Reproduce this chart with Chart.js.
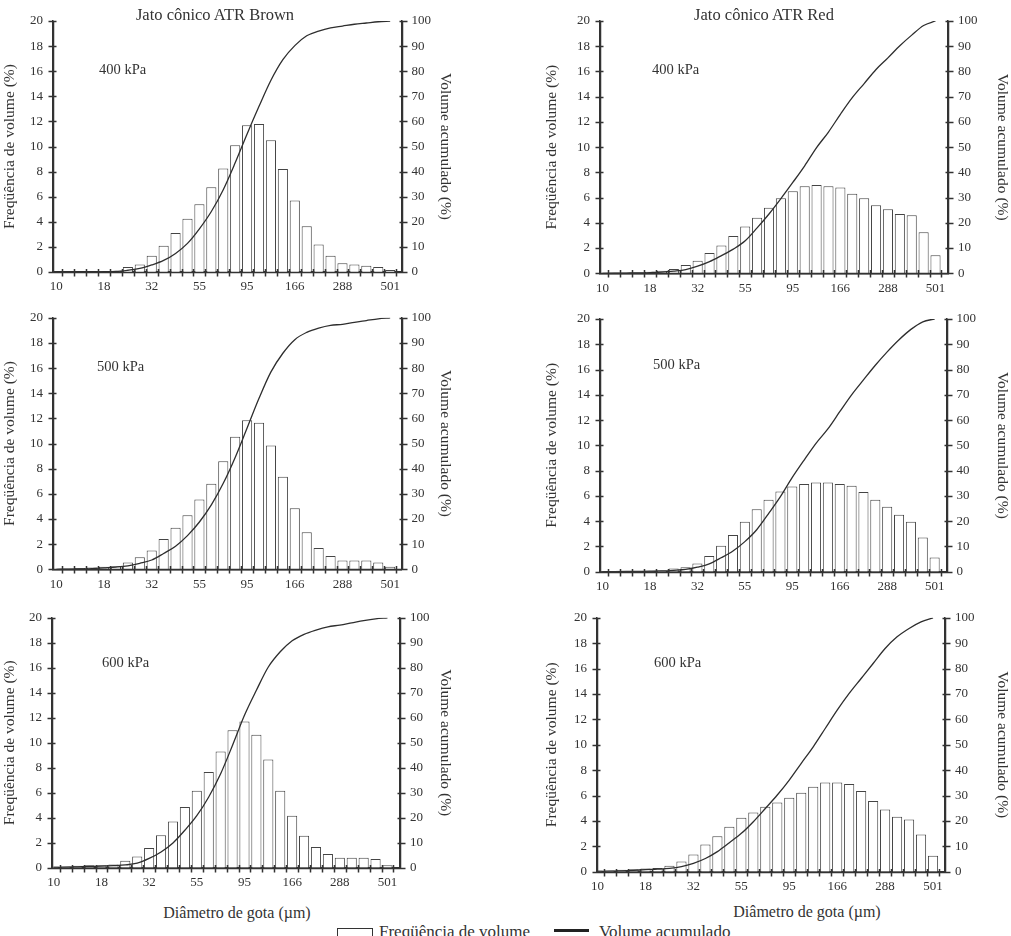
<!DOCTYPE html>
<html>
<head>
<meta charset="utf-8">
<script src="https://cdn.jsdelivr.net/npm/chart.js@4.4.0/dist/chart.umd.min.js"></script>
<style>
html,body{margin:0;padding:0;background:#fff;overflow:hidden;width:1011px;height:936px;}
body{position:relative;font-family:"Liberation Serif","DejaVu Serif",serif;color:#333;}
canvas{position:absolute;}
.t{position:absolute;white-space:nowrap;line-height:1;}
.c{transform:translate(-50%,-50%);}
.m{transform:translateY(-50%);}
</style>
</head>
<body>
<canvas id="b400" width="455" height="300" style="left:0;top:0"></canvas>
<canvas id="b500" width="455" height="300" style="left:0;top:300px"></canvas>
<canvas id="b600" width="455" height="300" style="left:0;top:600px"></canvas>
<canvas id="r400" width="471" height="300" style="left:540px;top:0"></canvas>
<canvas id="r500" width="471" height="300" style="left:540px;top:300px"></canvas>
<canvas id="r600" width="471" height="300" style="left:540px;top:600px"></canvas>

<div class="t c" style="left:215px;top:15px;font-size:16.5px">Jato cônico ATR Brown</div>
<div class="t c" style="left:764px;top:15px;font-size:16.5px">Jato cônico ATR Red</div>

<div class="t m" style="left:99px;top:69px;font-size:14.5px">400 kPa</div>
<div class="t m" style="left:97px;top:366px;font-size:14.5px">500 kPa</div>
<div class="t m" style="left:102px;top:662px;font-size:14.5px">600 kPa</div>
<div class="t m" style="left:652px;top:69px;font-size:14.5px">400 kPa</div>
<div class="t m" style="left:653px;top:364px;font-size:14.5px">500 kPa</div>
<div class="t m" style="left:654px;top:662px;font-size:14.5px">600 kPa</div>

<div class="t c" style="left:237px;top:913px;font-size:16px">Diâmetro de gota (µm)</div>
<div class="t c" style="left:807px;top:912px;font-size:16px">Diâmetro de gota (µm)</div>

<div style="position:absolute;left:337px;top:928px;width:34px;height:20px;border:1px solid #333;background:#fff"></div>
<div class="t" style="left:379px;top:923px;font-size:17px">Freqüência de volume</div>
<div style="position:absolute;left:554px;top:929px;width:35px;height:3px;background:#222"></div>
<div class="t" style="left:599px;top:923px;font-size:17px">Volume acumulado</div>

<script>
// ---------- data ----------
const classLabels = ['10','','','','18','','','','32','','','','55','','','','95','','','','166','','','','288','','','','501'];

const brown400Freq = [0,0,0,0,0.05,0.1,0.4,0.6,1.3,2.1,3.1,4.25,5.4,6.75,8.25,10.1,11.7,11.8,10.5,8.2,5.7,3.65,2.2,1.3,0.7,0.6,0.5,0.4,0.15];
const brown400Cum  = [0,0,0,0,0.1,0.2,0.7,1.4,2.8,4.6,7.4,11.4,17.2,24.1,32.8,43.5,55.0,66.0,76.4,84.6,90.2,94.1,96.0,97.3,98.0,98.7,99.2,99.7,100];

const brown500Freq = [0,0.05,0.1,0.15,0.2,0.25,0.55,0.95,1.5,2.4,3.3,4.3,5.55,6.8,8.6,10.55,11.85,11.65,9.85,7.35,4.85,2.95,1.7,1.05,0.7,0.7,0.7,0.55,0.2];
const brown500Cum  = [0,0.05,0.15,0.3,0.6,0.9,1.4,2.4,3.7,6.3,9.2,13.4,18.8,25.6,34.2,44.5,56.2,68.0,78.5,85.9,91.3,94.2,95.9,97.0,97.4,98.2,98.9,99.6,100];

const brown600Freq = [0.1,0.1,0.15,0.2,0.2,0.25,0.55,0.9,1.58,2.6,3.7,4.85,6.15,7.65,9.3,11.0,11.7,10.65,8.65,6.15,4.15,2.55,1.65,1.1,0.8,0.8,0.8,0.7,0.2];
const brown600Cum  = [0.1,0.2,0.35,0.5,0.6,0.8,1.1,1.8,3.7,6.3,9.9,15.0,20.8,28.3,37.6,49.0,61.0,71.0,80.3,86.4,90.8,93.4,95.1,96.4,97.1,98.0,98.9,99.6,100];

const red400Freq = [0.05,0.05,0.05,0.05,0.12,0.2,0.35,0.65,1.0,1.6,2.2,2.95,3.7,4.4,5.2,5.95,6.5,6.9,7.0,6.9,6.8,6.3,5.95,5.4,5.07,4.7,4.6,3.25,1.43];
const red400Cum  = [0,0.05,0.1,0.15,0.3,0.5,0.9,1.5,2.8,4.6,7.0,9.6,12.9,18.0,23.5,29.6,36.0,42.6,49.8,56.0,63.0,69.6,75.2,80.8,85.4,90.2,94.4,98.2,100];

const red500Freq = [0.05,0.05,0.05,0.05,0.05,0.1,0.25,0.35,0.65,1.25,2.05,2.9,3.95,4.95,5.7,6.35,6.75,6.95,7.05,7.05,6.95,6.8,6.3,5.7,5.15,4.5,3.95,2.7,1.13];
const red500Cum  = [0,0.05,0.1,0.15,0.2,0.3,0.55,0.9,1.8,3.1,5.5,8.2,11.9,16.6,23.0,29.7,37.3,44.2,50.8,56.5,63.3,70.0,75.9,81.7,87.0,91.8,95.9,98.9,100];

const red600Freq = [0.1,0.1,0.15,0.2,0.25,0.3,0.47,0.8,1.36,2.15,2.8,3.54,4.25,4.67,5.12,5.46,5.83,6.22,6.7,7.03,7.03,6.9,6.35,5.56,4.9,4.33,4.12,2.94,1.26];
const red600Cum  = [0.1,0.2,0.35,0.55,0.8,1.0,1.3,2.0,3.3,5.2,7.9,11.4,15.1,19.7,24.9,30.2,36.1,42.7,49.2,56.4,63.6,70.2,76.1,82.0,87.9,92.5,95.8,98.4,100];

const freqTicks = [0,2,4,6,8,10,12,14,16,18,20];
const cumTicks  = [0,10,20,30,40,50,60,70,80,90,100];

// ---------- styling / layout ----------
const AXIS = '#333';
const TEXT = '#333';
Chart.defaults.font.family = '"Liberation Serif","DejaVu Serif",serif';
Chart.defaults.color = TEXT;

// axis lines and crossing tick marks, positioned from the chart's own scales
const tickMarks = {
  id: 'tickMarks',
  afterDraw(chart) {
    const {ctx, chartArea: a, scales: {x, y, y2}} = chart;
    const L = Math.round(a.left) + 0.5, R = Math.round(a.right) + 0.5, B = Math.round(a.bottom) + 0.5, T = Math.round(a.top);
    ctx.save();
    ctx.strokeStyle = AXIS;
    ctx.lineWidth = 1.5;
    ctx.lineCap = 'butt';
    ctx.beginPath();
    ctx.moveTo(L, T); ctx.lineTo(L, B);
    ctx.moveTo(R, T); ctx.lineTo(R, B);
    ctx.moveTo(L, B); ctx.lineTo(R, B);
    for (let k = 0; k <= classLabels.length; k++) {
      const v = k - 0.5;
      if (v < x.min || v > x.max) continue;
      const px = Math.round(x.getPixelForValue(v)) + 0.5;
      ctx.moveTo(px, B - 3.5); ctx.lineTo(px, B + 4);
    }
    y.ticks.forEach(t => {
      const py = Math.round(y.getPixelForValue(t.value)) + 0.5;
      ctx.moveTo(L - 5, py); ctx.lineTo(L + 3, py);
    });
    y2.ticks.forEach(t => {
      const py = Math.round(y2.getPixelForValue(t.value)) + 0.5;
      ctx.moveTo(R - 3, py); ctx.lineTo(R + 5, py);
    });
    ctx.stroke();
    ctx.restore();
    ctx.getImageData(0, 0, 1, 1);
  }
};

function makePanel(id, freq, cum, box) {
  const canvas = document.getElementById(id);
  const W = canvas.width, H = canvas.height;
  new Chart(canvas, {
    data: {
      datasets: [
        {
          type: 'line',
          data: cum.map((v, i) => ({x: i, y: v})),
          yAxisID: 'y2',
          borderColor: '#2e2e2e',
          borderWidth: 1.3,
          pointRadius: 0,
          cubicInterpolationMode: 'monotone',
          fill: false,
          order: 0
        },
        {
          type: 'bar',
          data: freq.map((v, i) => ({x: i, y: v})),
          yAxisID: 'y',
          backgroundColor: '#ffffff',
          borderColor: '#444',
          borderWidth: 1,
          barPercentage: 0.85,
          categoryPercentage: 1.0,
          order: 1
        }
      ]
    },
    options: {
      responsive: false,
      animation: false,
      devicePixelRatio: 1,
      layout: {padding: {top: box.top, left: 0, right: 0, bottom: 0}},
      plugins: {legend: {display: false}, tooltip: {enabled: false}},
      scales: {
        x: {
          type: 'linear',
          offset: false,
          min: box.xmin, max: box.xmax,
          grid: {display: false, tickLength: 0},
          border: {display: true, color: AXIS, width: 1.5},
          afterBuildTicks: s => { s.ticks = classLabels.map((l, i) => l ? {value: i} : null).filter(Boolean); },
          ticks: {
            autoSkip: false, maxRotation: 0, minRotation: 0, padding: 7,
            font: {size: 13}, color: TEXT,
            callback: v => classLabels[v] || ''
          },
          afterFit: s => { s.height = H - box.bottom; }
        },
        y: {
          type: 'linear', position: 'left',
          min: 0, max: 20,
          grid: {display: false, tickLength: 0},
          border: {display: true, color: AXIS, width: 1.5},
          afterBuildTicks: s => { s.ticks = freqTicks.map(v => ({value: v})); },
          ticks: {padding: 10, font: {size: 13}, color: TEXT},
          title: {display: true, text: 'Freqüência de volume (%)', font: {size: 15.5}, color: TEXT, padding: {top: box.ltPad, bottom: 0}},
          afterFit: s => { s.width = box.left; }
        },
        y2: {
          type: 'linear', position: 'right',
          min: 0, max: 100,
          grid: {display: false, tickLength: 0},
          border: {display: true, color: AXIS, width: 1.5},
          afterBuildTicks: s => { s.ticks = cumTicks.map(v => ({value: v})); },
          ticks: {padding: 10, font: {size: 13}, color: TEXT},
          title: {display: true, text: 'Volume acumulado (%)', font: {size: 15.5}, color: TEXT, padding: {top: box.rtPad, bottom: 0}},
          afterFit: s => { s.width = W - box.right; }
        }
      }
    },
    plugins: [tickMarks]
  });
}

makePanel('b400', brown400Freq, brown400Cum, {left: 53, right: 401.5, top: 21, bottom: 272, xmin: -0.28, xmax: 28.95, ltPad: 0.5, rtPad: 0.5});
makePanel('b500', brown500Freq, brown500Cum, {left: 53, right: 401.5, top: 17.7, bottom: 269.3, xmin: -0.28, xmax: 28.95, ltPad: 0.5, rtPad: 0.5});
makePanel('b600', brown600Freq, brown600Cum, {left: 52, right: 400, top: 15.3, bottom: 267.7, xmin: -0.15, xmax: 29.05, ltPad: 0.5, rtPad: 0.5});
makePanel('r400', red400Freq, red400Cum, {left: 60, right: 408, top: 21, bottom: 273.3, xmin: -0.21, xmax: 29.05, ltPad: 2.7, rtPad: 0});
makePanel('r500', red500Freq, red500Cum, {left: 60, right: 406.5, top: 19, bottom: 271.7, xmin: -0.21, xmax: 29.0, ltPad: 2.7, rtPad: 0});
makePanel('r600', red600Freq, red600Cum, {left: 57, right: 405, top: 17.7, bottom: 271.7, xmin: -0.05, xmax: 29.0, ltPad: 2.7, rtPad: 0});
</script>
</body>
</html>
